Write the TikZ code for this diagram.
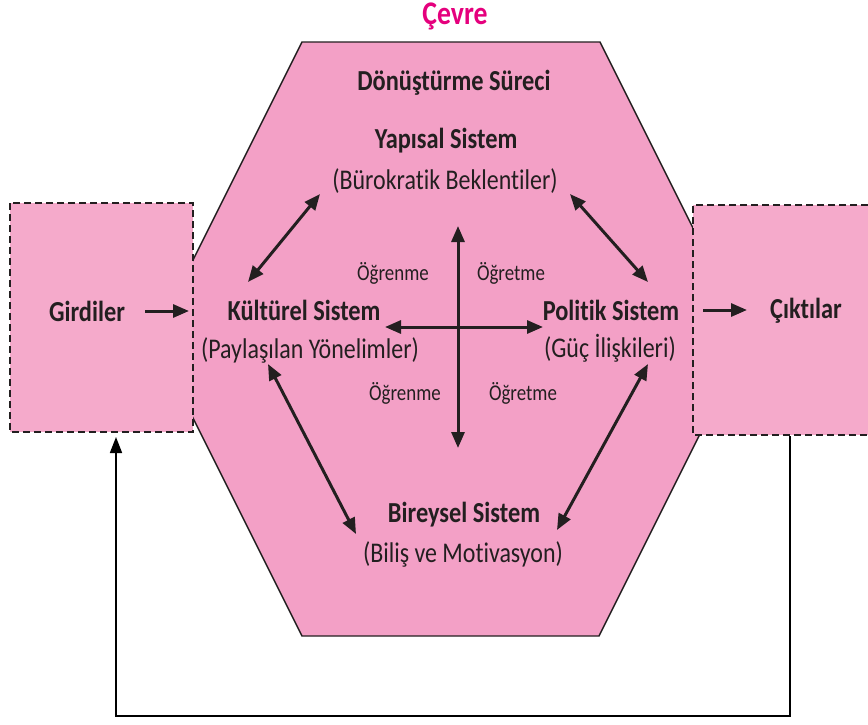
\documentclass[tikz,border=0pt]{standalone}
\usepackage{fontspec}
\setmainfont{Carlito}[FakeStretch=0.84, Ligatures=NoCommon]
\usetikzlibrary{arrows.meta}
\definecolor{octfill}{HTML}{F3A0C6}
\definecolor{boxfill}{HTML}{F5AACB}
\definecolor{ink}{HTML}{231F20}
\definecolor{mag}{HTML}{E5007D}
\begin{document}
\begin{tikzpicture}[x=1pt,y=-1pt,
  every node/.style={inner sep=0pt, text=ink},
  bold/.style={font=\fontsize{29}{32}\selectfont\bfseries},
  sub/.style={font=\fontsize{28.5}{32}\selectfont},
  small/.style={font=\fontsize{22.5}{26}\selectfont},
  dbl/.style={line width=3pt, draw=ink, {Triangle[length=16pt,width=13pt]}-{Triangle[length=16pt,width=13pt]}},
  sgl/.style={line width=3pt, draw=ink, -{Triangle[length=16pt,width=13pt]}},
  iobox/.style={draw=ink, line width=2.5pt, dash pattern=on 7pt off 4pt},
  fb/.style={line width=1.7pt, draw=black, -{Triangle[length=16pt,width=12pt]}},
]
\useasboundingbox (0,0) rectangle (868,724);
\fill[white] (0,0) rectangle (868,724);
% octagon
\draw[fill=octfill, draw=ink, line width=1.4pt]
  (302,42) -- (600,42) -- (700,242) -- (700,434) -- (599,636) -- (302,636) -- (190,412) -- (190,266) -- cycle;
% input / output boxes
\fill[boxfill] (10,203) rectangle (193,432);
\draw[iobox] (10,203) rectangle (193,432);
\fill[boxfill] (693,205) rectangle (868,435);
\draw[iobox] (868,205) -- (693,205) -- (693,435) -- (868,435);
% texts
\node[font=\fontsize{33}{36}\selectfont\bfseries, text=mag] (cevre) at (455,16) {Çevre};
\node[bold] (donus) at (454,83) {Dönüştürme Süreci};
\node[bold] (yap) at (446,141) {Yapısal Sistem};
\node[sub] (yaps) at (445,181) {(Bürokratik Beklentiler)};
\node[bold] (kul) at (304,310) {Kültürel Sistem};
\node[sub] (kuls) at (310,350) {(Paylaşılan Yönelimler)};
\node[bold] (pol) at (611,310) {Politik Sistem};
\node[sub] (pols) at (610,348) {(Güç İlişkileri)};
\node[bold] (bir) at (464,515) {Bireysel Sistem};
\node[sub] (birs) at (463,554) {(Biliş ve Motivasyon)};
\node[small] (og1) at (393,273) {Öğrenme};
\node[small] (ot1) at (511,273) {Öğretme};
\node[small] (og2) at (405,393) {Öğrenme};
\node[small] (ot2) at (523,393) {Öğretme};
\node[bold] (gir) at (87,311) {Girdiler};
\node[bold] (cik) at (806,311) {Çıktılar};
% arrow end points
\coordinate (gA) at (145,311);
\coordinate (gB) at (189,311);
\coordinate (cA) at (703,310);
\coordinate (cB) at (747,310);
\coordinate (vT) at (458,226);
\coordinate (vB) at (458,448);
\coordinate (hL) at (385,327);
\coordinate (hR) at (543,327);
\coordinate (ykT) at (320,194);
\coordinate (ykB) at (248,282);
\coordinate (ypT) at (570,194);
\coordinate (ypB) at (648,282);
\coordinate (kbT) at (268,364);
\coordinate (kbB) at (356,534);
\coordinate (pbT) at (648,364);
\coordinate (pbB) at (557,530);
\coordinate (fbR) at (790,436);
\coordinate (fbRb) at (790,716);
\coordinate (fbLb) at (116,716);
\coordinate (fbL) at (116,437);
% arrows
\draw[sgl] (gA) -- (gB);
\draw[sgl] (cA) -- (cB);
\draw[dbl] (vT) -- (vB);
\draw[dbl] (hL) -- (hR);
\draw[dbl] (ykT) -- (ykB);
\draw[dbl] (ypT) -- (ypB);
\draw[dbl] (kbT) -- (kbB);
\draw[dbl] (pbT) -- (pbB);
\draw[fb] (fbR) -- (fbRb) -- (fbLb) -- (fbL);
\end{tikzpicture}
\end{document}
